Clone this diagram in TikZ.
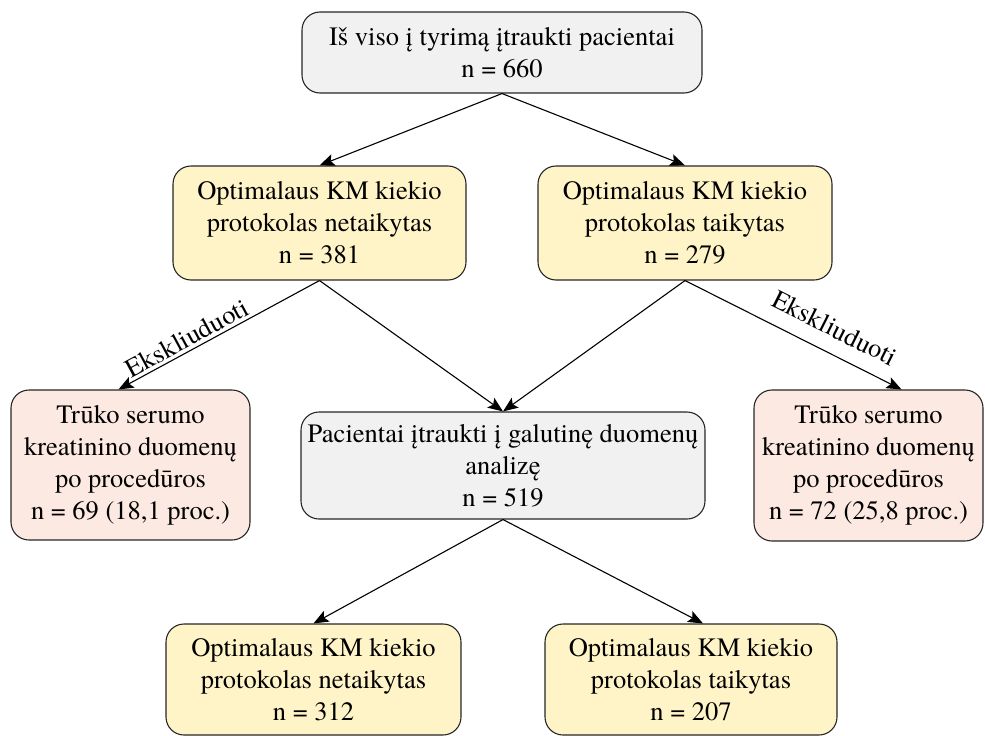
\documentclass[tikz,border=0pt]{standalone}
\usepackage{fontspec}
\setmainfont{texgyretermes}[Extension=.otf, UprightFont=*-regular, BoldFont=*-bold, ItalicFont=*-italic, BoldItalicFont=*-bolditalic]
\usetikzlibrary{arrows.meta}
\definecolor{boxgrey}{HTML}{F1F1F1}
\definecolor{boxyellow}{HTML}{FFF4C7}
\definecolor{boxpink}{HTML}{FCE9E2}
\begin{document}
\begin{tikzpicture}[x=1pt,y=-1pt,
  every node/.style={font=\fontsize{26.5}{32}\selectfont},
  box/.style={draw=black!85, line width=1.1pt, rounded corners=18pt, align=center, inner sep=0pt},
  arr/.style={draw=black, line width=1.1pt, -{Stealth[length=15pt,width=12pt,inset=3pt]}},
  lab/.style={sloped, above, inner sep=2pt}]
\useasboundingbox (0,0) rectangle (985,736);
\node[box, fill=boxgrey, minimum width=400pt, minimum height=81pt] (top) at (502,52.5)
  {Iš viso į tyrimą įtraukti pacientai\\n = 660};
\node[box, fill=boxyellow, minimum width=293pt, minimum height=114pt] (ly) at (319.5,223)
  {Optimalaus KM kiekio\\protokolas netaikytas\\n = 381};
\node[box, fill=boxyellow, minimum width=294pt, minimum height=114pt] (ry) at (685,223)
  {Optimalaus KM kiekio\\protokolas taikytas\\n = 279};
\node[box, fill=boxpink, minimum width=239pt, minimum height=150pt] (lp) at (130.5,465)
  {Trūko serumo\\kreatinino duomenų\\po procedūros\\n = 69 (18,1 proc.)};
\node[box, fill=boxgrey, minimum width=404pt, minimum height=107pt] (gr) at (503,465.5)
  {Pacientai įtraukti į galutinę duomenų\\analizę\\n = 519};
\node[box, fill=boxpink, minimum width=229pt, minimum height=151pt] (rp) at (868.5,465.5)
  {Trūko serumo\\kreatinino duomenų\\po procedūros\\n = 72 (25,8 proc.)};
\node[box, fill=boxyellow, minimum width=295pt, minimum height=111pt] (bl) at (313.5,679.5)
  {Optimalaus KM kiekio\\protokolas netaikytas\\n = 312};
\node[box, fill=boxyellow, minimum width=292pt, minimum height=111pt] (br) at (691,679.5)
  {Optimalaus KM kiekio\\protokolas taikytas\\n = 207};
\draw[arr] (top.south) -- (ly.north);
\draw[arr] (top.south) -- (ry.north);
\draw[arr] (ly.south) -- node[lab, pos=0.63, inner sep=3pt]{Ekskliuduoti} ([xshift=-12pt]lp.north);
\draw[arr] (ly.south) -- (gr.north);
\draw[arr] (ry.south) -- (gr.north);
\draw[arr] (ry.south) -- node[lab, pos=0.64, inner sep=15pt]{Ekskliuduoti} ([xshift=33pt]rp.north);
\draw[arr] (gr.south) -- (bl.north);
\draw[arr] (gr.south) -- ([xshift=12pt]br.north);
\end{tikzpicture}
\end{document}
